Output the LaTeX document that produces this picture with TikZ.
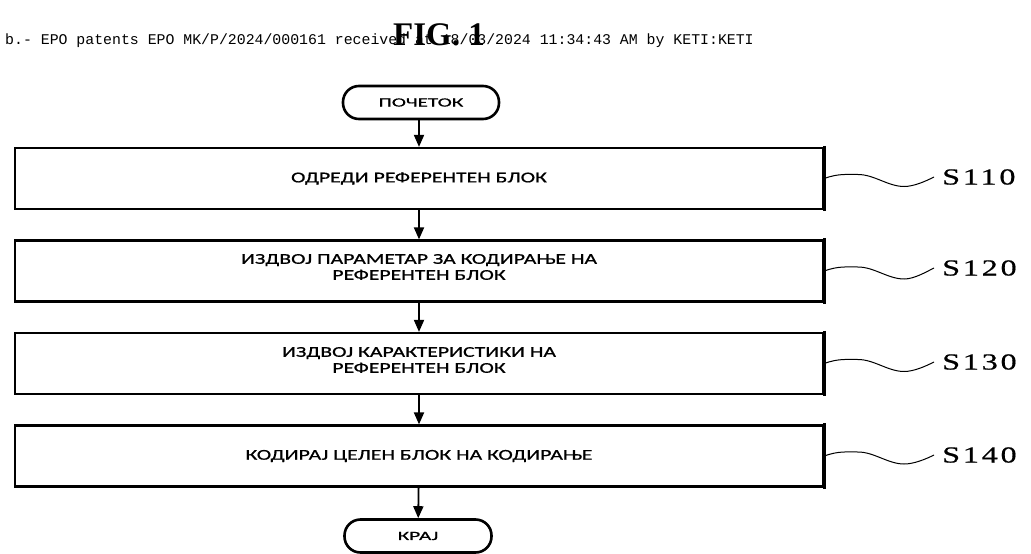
\documentclass[tikz,border=0pt]{standalone}
\usepackage{fontspec}
\setmainfont{Carlito}
\newfontfamily\boxfont[FakeStretch=1.45,FakeBold=0.8]{Carlito}
\newfontfamily\termfont[FakeStretch=1.7,FakeBold=0.8]{Carlito}
\newfontfamily\labfont[FakeStretch=1.4,LetterSpace=12,FakeBold=0.6]{Liberation Serif}
\newfontfamily\figfont{Liberation Serif}
\newfontfamily\hdrfont{Liberation Mono}
\usetikzlibrary{arrows.meta,calc}
\tikzset{
  stepbox/.style={draw, line width=2.2pt, minimum width=808pt, minimum height=61pt,
    inner sep=0pt, align=center, font=\boxfont\fontsize{15}{16}\selectfont},
  boxtext/.style={inner sep=0pt, align=center, font=\boxfont\fontsize{15}{16}\selectfont},
  term/.style={draw, line width=2.6pt, rounded corners=16pt, minimum height=33pt,
    inner sep=0pt, font=\termfont\fontsize{12.5}{14}\selectfont},
  flow/.style={line width=1.8pt, -{Triangle[length=12pt,width=10pt]}},
  wave/.style={line width=1pt},
  steplab/.style={anchor=west, inner sep=0pt, font=\labfont\fontsize{23}{26}\selectfont},
}
\newcommand\wavelink[2]{%
  \draw[wave] (#1.east) .. controls +(14,-5) and +(-12,0) .. ($(#1.east)+(34,-4)$)
    .. controls +(16,0) and +(-16,0) .. ($(#1.east)+(80,8)$)
    .. controls +(10,0) and +(-8,4) .. ($(#2.west)+(-8,0)$);
  \draw[line width=3.2pt] ($(#1.north east)+(0,-1)$) -- ($(#1.south east)+(0,1)$);}
\begin{document}
\begin{tikzpicture}[x=1pt,y=-1pt]
\useasboundingbox[fill=white] (0,0) rectangle (1031,554);
\node[anchor=base west, inner sep=0pt, font=\hdrfont\fontsize{14.85}{16}\selectfont]
  (hdr) at (5,44) {b.- EPO patents EPO MK/P/2024/000161 received at 18/03/2024 11:34:43 AM by KETI:KETI};
\node[anchor=base west, inner sep=0pt, font=\figfont\bfseries\fontsize{33}{36}\selectfont]
  (fig) at (393,45) {FIG. 1};

\node[term, minimum width=156pt] (start) at (421,102.5) {ПОЧЕТОК};
\node[stepbox] (b1) at (419,178.5) {ОДРЕДИ РЕФЕРЕНТЕН БЛОК};
\node[stepbox] (b2) at (419,271) {};
\node[stepbox] (b3) at (419,363.5) {};
\node[stepbox] (b4) at (419,456) {КОДИРАЈ ЦЕЛЕН БЛОК НА КОДИРАЊЕ};
\node[term, minimum width=147pt] (end) at (418,536) {КРАЈ};
\path (b2.center) node[boxtext, yshift=4pt] (t2)
  {ИЗДВОЈ ПАРАМЕТАР ЗА КОДИРАЊЕ НА\\РЕФЕРЕНТЕН БЛОК};
\path (b3.center) node[boxtext, yshift=3.5pt] (t3)
  {ИЗДВОЈ КАРАКТЕРИСТИКИ НА\\РЕФЕРЕНТЕН БЛОК};

\draw[flow] (start.south -| b1) -- (b1);
\draw[flow] (b1) -- (b2);
\draw[flow] (b2) -- (b3);
\draw[flow] (b3) -- (b4);
\draw[flow] (b4) -- (end);

\node[steplab] (l1) at (942,177) {S110};
\node[steplab] (l2) at (942,268) {S120};
\node[steplab] (l3) at (942,362) {S130};
\node[steplab] (l4) at (942,455) {S140};
\wavelink{b1}{l1}
\wavelink{b2}{l2}
\wavelink{b3}{l3}
\wavelink{b4}{l4}
\end{tikzpicture}
\end{document}
